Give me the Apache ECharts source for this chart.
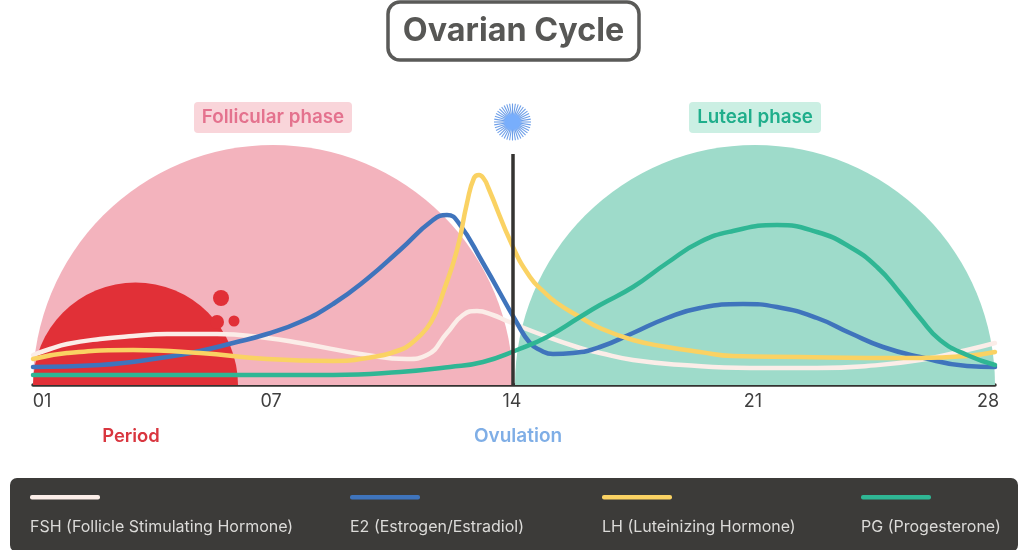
<!DOCTYPE html>
<html><head><meta charset="utf-8">
<style>html,body{margin:0;padding:0;background:#fff}#c{width:1024px;height:550px}</style>
<script src="https://cdn.jsdelivr.net/npm/echarts@6/dist/echarts.min.js"></script>
</head><body><div id="c"></div>
<script>
// x = position along the cycle strip (tick spacing in the picture is uneven), y = relative hormone level
const tickPositions = [9, 238, 479, 720, 955];
const tickLabels = ['01', '07', '14', '21', '28'];

const fshX = [0, 17, 34, 67, 100, 134, 184, 234, 267, 334, 374, 394, 414, 430, 444, 460, 474, 504, 547, 567, 600, 650, 717, 784, 834, 887, 934, 962];
const fshY = [30, 36, 41, 46, 49, 51, 51, 47, 42, 30, 26, 30, 52, 70, 74, 70, 64, 52, 37, 32, 25, 20, 17, 17, 19, 25, 35, 42];

const e2X = [0, 67, 134, 167, 200, 234, 267, 300, 334, 367, 400, 414, 425, 450, 484, 497, 507, 520, 540, 567, 600, 634, 667, 710, 744, 784, 817, 850, 887, 934, 962];
const e2Y = [18, 20, 28, 34, 42, 51, 63, 81, 106, 135, 165, 170, 163, 122, 62, 42, 35, 31, 32, 38, 52, 67, 77, 81, 78, 67, 52, 38, 28, 19, 18];

const lhX = [0, 34, 100, 167, 234, 300, 334, 367, 380, 394, 403, 410, 424, 434, 441, 446, 451, 455, 480, 497, 510, 524, 547, 567, 600, 634, 667, 700, 767, 834, 887, 934, 962];
const lhY = [26, 32, 35, 32, 26, 24, 27, 35, 43, 57, 73, 92, 135, 182, 207, 210, 206, 198, 138, 108, 94, 82, 68, 57, 45, 38, 33, 29, 28, 27, 27, 29, 33];

const pgX = [0, 200, 300, 367, 417, 450, 484, 514, 547, 567, 600, 634, 667, 700, 744, 784, 817, 844, 867, 887, 907, 934, 962];
const pgY = [10, 10, 10, 13, 18, 23, 35, 48, 68, 80, 98, 122, 143, 154, 160, 153, 138, 118, 92, 67, 45, 30, 20];

const follicularDome = [[0, 480]];
const lutealDome = [[482, 962]];
const periodDome = [[0, 205]];
const clots = [[188, 87, 16], [184, 63, 14], [201, 64, 11]];

const seriesNames = ['FSH (Follicle Stimulating Hormone)', 'E2 (Estrogen/Estradiol)', 'LH (Luteinizing Hormone)', 'PG (Progesterone)'];
const seriesColors = ['#FBEDE8', '#3F74BC', '#FAD263', '#2FB694'];
const legendX = [30, 350, 602, 861];
const FONT = 'Inter';

function pair(xs, ys) { return xs.map((x, i) => [x, ys[i]]); }

function dome(name, data, color, z) {
  return {
    type: 'custom', name, data, z, silent: true, clip: false,
    encode: { x: [0, 1] },
    itemStyle: { color },
    renderItem(params, api) {
      const a = api.coord([api.value(0), 0]);
      const b = api.coord([api.value(1), 0]);
      return {
        type: 'sector',
        shape: { cx: (a[0] + b[0]) / 2, cy: a[1], r: (b[0] - a[0]) / 2, r0: 0, startAngle: Math.PI, endAngle: 2 * Math.PI, clockwise: true },
        style: api.style()
      };
    }
  };
}

function line(i, xs, ys, extra) {
  return Object.assign({
    type: 'line', name: seriesNames[i], data: pair(xs, ys), smooth: 0.5,
    showSymbol: false, symbol: 'none', silent: true, z: 5 + i, clip: false,
    lineStyle: { color: seriesColors[i], width: 4.5, cap: 'round' },
    itemStyle: { color: seriesColors[i] }
  }, extra || {});
}

// Decoration: ovulation burst
const burst = [];
for (let k = 0; k < 40; k++) {
  const t = k / 40 * Math.PI * 2;
  burst.push({ type: 'line', silent: true,
    shape: { x1: 512.5, y1: 122, x2: 512.5 + 18.5 * Math.cos(t), y2: 122 + 18.5 * Math.sin(t) },
    style: { stroke: '#6E9FE8', lineWidth: 1.1 } });
}
burst.push({ type: 'circle', silent: true, shape: { cx: 512.5, cy: 122, r: 10 },
  style: { fill: { type: 'radial', x: 0.5, y: 0.5, r: 0.5, colorStops: [{ offset: 0, color: '#78AEFC' }, { offset: 0.7, color: '#78AEFC' }, { offset: 1, color: 'rgba(120,174,252,0)' }] } } });

const legendGfx = [{ type: 'rect', silent: true, shape: { x: 10, y: 478, width: 1008, height: 74, r: 7 }, style: { fill: '#3C3B39' } }];
seriesNames.forEach((n, i) => {
  legendGfx.push({ type: 'rect', silent: true, shape: { x: legendX[i], y: 495, width: 70, height: 4.5, r: 2 }, style: { fill: seriesColors[i] } });
  legendGfx.push({ type: 'text', silent: true, x: legendX[i], y: 527, style: { text: n, fill: '#DCDBD9', font: '16px ' + FONT, verticalAlign: 'middle', align: 'left' } });
});

const chart = echarts.init(document.getElementById('c'), null, { renderer: 'canvas' });
chart.setOption({
  animation: false,
  backgroundColor: '#fff',
  grid: { left: 33, top: 145, width: 962, height: 240, containLabel: false },
  xAxis: {
    type: 'value', min: 0, max: 962, splitLine: { show: false },
    axisLine: { show: true, onZero: true, lineStyle: { color: '#343331', width: 3.5 } },
    axisTick: { show: false },
    axisLabel: {
      customValues: tickPositions, margin: 8, fontFamily: FONT, fontSize: 18, color: '#3f3f3f',
      hideOverlap: false, showMinLabel: true, showMaxLabel: true,
      formatter: v => tickLabels[tickPositions.indexOf(v)]
    }
  },
  yAxis: { type: 'value', min: 0, max: 240, show: false, splitLine: { show: false } },
  series: [
    dome('Follicular phase', follicularDome, '#F3B3BD', 1),
    dome('Luteal phase', lutealDome, '#9EDBCA', 1),
    dome('Period', periodDome, '#E13037', 2),
    { type: 'scatter', name: 'Clots', data: clots, z: 2, silent: true, symbolSize: d => d[2], itemStyle: { color: '#E13037', opacity: 1 } },
    line(0, fshX, fshY),
    line(1, e2X, e2Y),
    line(2, lhX, lhY),
    line(3, pgX, pgY, {
      markLine: {
        silent: true, symbol: 'none', z: 20, animation: false,
        label: { show: false },
        lineStyle: { color: '#343331', width: 3.5, type: 'solid' },
        data: [[{ coord: [480, 0] }, { coord: [480, 231] }]]
      }
    })
  ],
  graphic: { elements: [
    { type: 'rect', silent: true, shape: { x: 388, y: 2, width: 251, height: 58, r: 12 }, style: { fill: '#fff', stroke: '#5A5A58', lineWidth: 3.5 } },
    { type: 'text', silent: true, x: 513.5, y: 31, style: { text: 'Ovarian Cycle', fill: '#575755', font: '700 32.3px ' + FONT, align: 'center', verticalAlign: 'middle' } },
    { type: 'rect', silent: true, shape: { x: 194, y: 102, width: 158, height: 31, r: 4 }, style: { fill: '#F9D5DA' } },
    { type: 'text', silent: true, x: 273, y: 117.5, style: { text: 'Follicular phase', fill: '#E4728E', font: '600 18.8px ' + FONT, align: 'center', verticalAlign: 'middle' } },
    { type: 'rect', silent: true, shape: { x: 689, y: 102, width: 132, height: 31, r: 4 }, style: { fill: '#CBEFE3' } },
    { type: 'text', silent: true, x: 755, y: 117.5, style: { text: 'Luteal phase', fill: '#1FAE8B', font: '600 18.8px ' + FONT, align: 'center', verticalAlign: 'middle' } },
    { type: 'text', silent: true, x: 131, y: 436, style: { text: 'Period', fill: '#D9363F', font: '600 18.4px ' + FONT, align: 'center', verticalAlign: 'middle' } },
    { type: 'text', silent: true, x: 518, y: 436, style: { text: 'Ovulation', fill: '#7FAEE6', font: '600 19px ' + FONT, align: 'center', verticalAlign: 'middle' } }
  ].concat(burst, legendGfx) }
});
</script></body></html>
